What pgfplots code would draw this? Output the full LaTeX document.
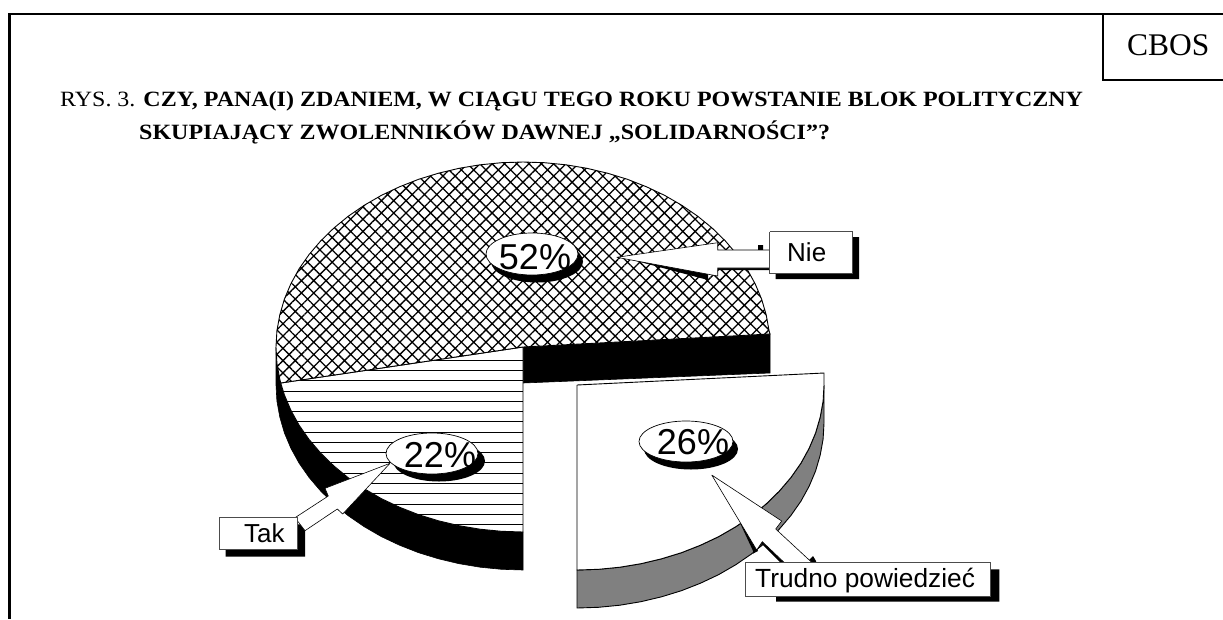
\documentclass[border=0pt]{standalone}
\usepackage{fontspec}
\usepackage{graphicx}
\setmainfont{Liberation Serif}
\newfontfamily\ar{Liberation Sans}
\usepackage{pgfplots}
\pgfplotsset{compat=1.18}
\usetikzlibrary{patterns.meta}
\begin{document}
\begin{tikzpicture}[x=1pt,y=1pt]
\path[use as bounding box] (0,0) rectangle (1223,619);
\begin{axis}[
  at={(0,0)},anchor=south west,
  width=1223pt,height=619pt,scale only axis,
  xmin=0,xmax=1223,ymin=0,ymax=619,y dir=reverse,
  hide axis,clip=false]
% Tak: black side
\addplot[fill=black,draw=black,line width=0.6pt] coordinates {
(276,347)(276.9,363.1)(279.8,379.1)(284.4,394.9)(290.9,410.3)(299.1,425.2)(309.1,439.5)(320.7,453.1)(333.8,465.9)(348.3,477.8)(364.2,488.7)(381.3,498.6)(399.5,507.2)(418.6,514.7)(438.5,520.8)(459.1,525.7)(480.1,529.2)(501.5,531.3)(523,532)
(523,570)(501.5,569.3)(480.1,567.2)(459.1,563.7)(438.5,558.8)(418.6,552.7)(399.5,545.2)(381.3,536.6)(364.2,526.7)(348.3,515.8)(333.8,503.9)(320.7,491.1)(309.1,477.5)(299.1,463.2)(290.9,448.3)(284.4,432.9)(279.8,417.1)(276.9,401.1)(276,385)(276,347)};
% Nie: black side
\addplot[fill=black,draw=black,line width=0.6pt] coordinates {(523,347)(770,334)(770,373)(523,383)(523,347)};
% Tak: top face (22)
\addplot[fill=white,draw=black,line width=0.9pt] coordinates {
(523,347)(280.7,383)(284.4,394.9)(290.9,410.3)(299.1,425.2)(309.1,439.5)(320.7,453.1)(333.8,465.9)(348.3,477.8)(364.2,488.7)(381.3,498.6)(399.5,507.2)(418.6,514.7)(438.5,520.8)(459.1,525.7)(480.1,529.2)(501.5,531.3)(523,532)(523,347)};
\addplot[black,line width=1pt] coordinates {(433.6,360.3)(523,360.3)};
\addplot[black,line width=1pt] coordinates {(364.4,370.6)(523,370.6)};
\addplot[black,line width=1pt] coordinates {(296.5,380.7)(523,380.7)};
\addplot[black,line width=1pt] coordinates {(283.1,391)(523,391)};
\addplot[black,line width=1pt] coordinates {(286.9,401.3)(523,401.3)};
\addplot[black,line width=1pt] coordinates {(291.5,411.5)(523,411.5)};
\addplot[black,line width=1pt] coordinates {(297.1,421.8)(523,421.8)};
\addplot[black,line width=1pt] coordinates {(303.7,432.1)(523,432.1)};
\addplot[black,line width=1pt] coordinates {(311.3,442.3)(523,442.3)};
\addplot[black,line width=1pt] coordinates {(320.2,452.6)(523,452.6)};
\addplot[black,line width=1pt] coordinates {(330.5,462.9)(523,462.9)};
\addplot[black,line width=1pt] coordinates {(342.4,473.2)(523,473.2)};
\addplot[black,line width=1pt] coordinates {(356.1,483.4)(523,483.4)};
\addplot[black,line width=1pt] coordinates {(372.5,493.7)(523,493.7)};
\addplot[black,line width=1pt] coordinates {(392.3,504)(523,504)};
\addplot[black,line width=1pt] coordinates {(417.3,514.2)(523,514.2)};
\addplot[black,line width=1pt] coordinates {(453.4,524.5)(523,524.5)};
% Nie: top face (52)
\addplot[fill=white,draw=none] coordinates {
(523,347)(770,334)(769.1,330.9)(766.2,314.9)(761.6,299.1)(755.1,283.7)(746.9,268.8)(736.9,254.5)(725.3,240.9)(712.2,228.1)(697.7,216.2)(681.8,205.3)(664.7,195.4)(646.5,186.8)(627.4,179.3)(607.5,173.2)(586.9,168.3)(565.9,164.8)(544.5,162.7)(523,162)(501.5,162.7)(480.1,164.8)(459.1,168.3)(438.5,173.2)(418.6,179.3)(399.5,186.8)(381.3,195.4)(364.2,205.3)(348.3,216.2)(333.8,228.1)(320.7,240.9)(309.1,254.5)(299.1,268.8)(290.9,283.7)(284.4,299.1)(279.8,314.9)(276.9,330.9)(276,347)(276.9,363.1)(279.8,379.1)(280.7,383)(523,347)};
\addplot[pattern={Hatch[angle=45,distance=8.7pt,line width=1.3pt]},pattern color=black,draw=black,line width=0.9pt] coordinates {
(523,347)(770,334)(769.1,330.9)(766.2,314.9)(761.6,299.1)(755.1,283.7)(746.9,268.8)(736.9,254.5)(725.3,240.9)(712.2,228.1)(697.7,216.2)(681.8,205.3)(664.7,195.4)(646.5,186.8)(627.4,179.3)(607.5,173.2)(586.9,168.3)(565.9,164.8)(544.5,162.7)(523,162)(501.5,162.7)(480.1,164.8)(459.1,168.3)(438.5,173.2)(418.6,179.3)(399.5,186.8)(381.3,195.4)(364.2,205.3)(348.3,216.2)(333.8,228.1)(320.7,240.9)(309.1,254.5)(299.1,268.8)(290.9,283.7)(284.4,299.1)(279.8,314.9)(276.9,330.9)(276,347)(276.9,363.1)(279.8,379.1)(280.7,383)(523,347)};
% Trudno: grey side
\addplot[fill=black!50,draw=black,line width=0.9pt] coordinates {
(824,385)(823.1,401.1)(820.2,417.1)(815.6,432.9)(809.1,448.3)(800.9,463.2)(790.9,477.5)(779.3,491.1)(766.2,503.9)(751.7,515.8)(735.8,526.7)(718.7,536.6)(700.5,545.2)(681.4,552.7)(661.5,558.8)(640.9,563.7)(619.9,567.2)(598.5,569.3)(577,570)
(577,608)(598.5,607.3)(619.9,605.2)(640.9,601.7)(661.5,596.8)(681.4,590.7)(700.5,583.2)(718.7,574.6)(735.8,564.7)(751.7,553.8)(766.2,541.9)(779.3,529.1)(790.9,515.5)(800.9,501.2)(809.1,486.3)(815.6,470.9)(820.2,455.1)(823.1,439.1)(824,423)(824,385)};
% Trudno: top face (26)
\addplot[fill=white,draw=black,line width=0.9pt] coordinates {
(577,385)(824,373)(824,385)(823.1,401.1)(820.2,417.1)(815.6,432.9)(809.1,448.3)(800.9,463.2)(790.9,477.5)(779.3,491.1)(766.2,503.9)(751.7,515.8)(735.8,526.7)(718.7,536.6)(700.5,545.2)(681.4,552.7)(661.5,558.8)(640.9,563.7)(619.9,567.2)(598.5,569.3)(577,570)(577,385)};
% frame
\addplot[black,line width=2.6pt] coordinates {(1223,14)(9.5,14)(9.5,619)};
\addplot[black,line width=2pt] coordinates {(1103,14)(1103,79.5)(1223,79.5)};
% title
\node[anchor=base west,inner sep=0] at (axis cs:60,106.7) {\scalebox{1.1}[1]{\fontsize{21.8}{24}\selectfont RYS. 3. \textbf{CZY, PANA(I) ZDANIEM, W CIĄGU TEGO ROKU POWSTANIE BLOK POLITYCZNY}}};
\node[anchor=base west,inner sep=0] at (axis cs:139,139.3) {\scalebox{1.1}[1]{\fontsize{21.8}{24}\selectfont\bfseries SKUPIAJĄCY ZWOLENNIKÓW DAWNEJ „SOLIDARNOŚCI”?}};
\node[anchor=base west,inner sep=0] at (axis cs:1127,55) {\fontsize{31.5}{36}\selectfont CBOS};
% bubbles
\fill[black] (axis cs:537,261.5) ellipse [x radius=46pt,y radius=21pt];
\draw[fill=white,line width=0.7pt] (axis cs:532,254) ellipse [x radius=46pt,y radius=21pt];
\node[anchor=base,inner sep=0] at (axis cs:535,269.5) {\ar\fontsize{36}{40}\selectfont 52\%};
\fill[black] (axis cs:439,461) ellipse [x radius=46pt,y radius=20.5pt];
\draw[fill=white,line width=0.7pt] (axis cs:432,453.5) ellipse [x radius=46pt,y radius=20.5pt];
\node[anchor=base,inner sep=0] at (axis cs:440,467) {\ar\fontsize{36}{40}\selectfont 22\%};
\fill[black] (axis cs:691,449) ellipse [x radius=47pt,y radius=20.5pt];
\draw[fill=white,line width=0.7pt] (axis cs:686,441.5) ellipse [x radius=47pt,y radius=20.5pt];
\node[anchor=base,inner sep=0] at (axis cs:693,454.5) {\ar\fontsize{36}{40}\selectfont 26\%};
% Nie callout
\addplot[fill=black,draw=none] coordinates {(625,258)(708,280)(708,274)(625,258)};
\addplot[fill=black,draw=none] coordinates {(758,245)(763,245)(763,250)(758,250)(758,245)};
\addplot[fill=black,draw=none] coordinates {(718,268)(770,268)(770,270)(718,270)(718,268)};
\addplot[fill=white,draw=black,line width=0.6pt] coordinates {(616.7,257.3)(717.7,242.7)(717.7,250)(770,250)(770,268)(717.7,268)(717.7,276)(616.7,257.3)};
\addplot[fill=black,draw=none] coordinates {(775.7,237)(859,237)(859,279)(775.7,279)(775.7,237)};
\addplot[fill=white,draw=black!70,line width=0.9pt] coordinates {(769.7,231.7)(852.3,231.7)(852.3,273.3)(769.7,273.3)(769.7,231.7)};
\node[anchor=base west,inner sep=0] at (axis cs:787,261) {\ar\fontsize{26}{30}\selectfont Nie};
% Tak callout
\addplot[fill=black,draw=none] coordinates {(225.7,524.3)(305,524.3)(305,556.7)(225.7,556.7)(225.7,524.3)};
\addplot[fill=white,draw=black,line width=0.6pt] coordinates {(390,463.3)(325,488.3)(328.3,496)(295,517.7)(305,530.7)(337.3,509)(342.7,514)(390,463.3)};
\addplot[fill=white,draw=black!70,line width=0.9pt] coordinates {(219,517.7)(297.3,517.7)(297.3,549.3)(219,549.3)(219,517.7)};
\node[anchor=base west,inner sep=0] at (axis cs:244,542) {\ar\fontsize{26}{30}\selectfont Tak};
% Trudno callout
\addplot[fill=black,draw=none] coordinates {(740,523)(754,553)(758,551)(745,525)(740,523)};
\addplot[fill=black,draw=none] coordinates {(753,554)(762,544)(781,563)(785,563)(762.3,540)(753,549)(753,554)};
\addplot[fill=black,draw=none] coordinates {(808,561)(813,556)(816,561)(816,564)(808,564)(808,561)};
\addplot[fill=white,draw=black,line width=0.6pt] coordinates {(711.7,475)(781.7,521)(775.7,529)(811.7,562.3)(784,562.3)(762.3,541.7)(756.7,550)(711.7,475)};
\addplot[fill=black,draw=none] coordinates {(776,569.3)(999.3,569.3)(999.3,601.7)(776,601.7)(776,569.3)};
\addplot[fill=white,draw=black!70,line width=0.9pt] coordinates {(745.3,562.7)(990.7,562.7)(990.7,596)(745.3,596)(745.3,562.7)};
\node[anchor=base west,inner sep=0] at (axis cs:755,587.7) {\ar\fontsize{26.3}{30}\selectfont Trudno powiedzieć};
\end{axis}
\end{tikzpicture}
\end{document}
